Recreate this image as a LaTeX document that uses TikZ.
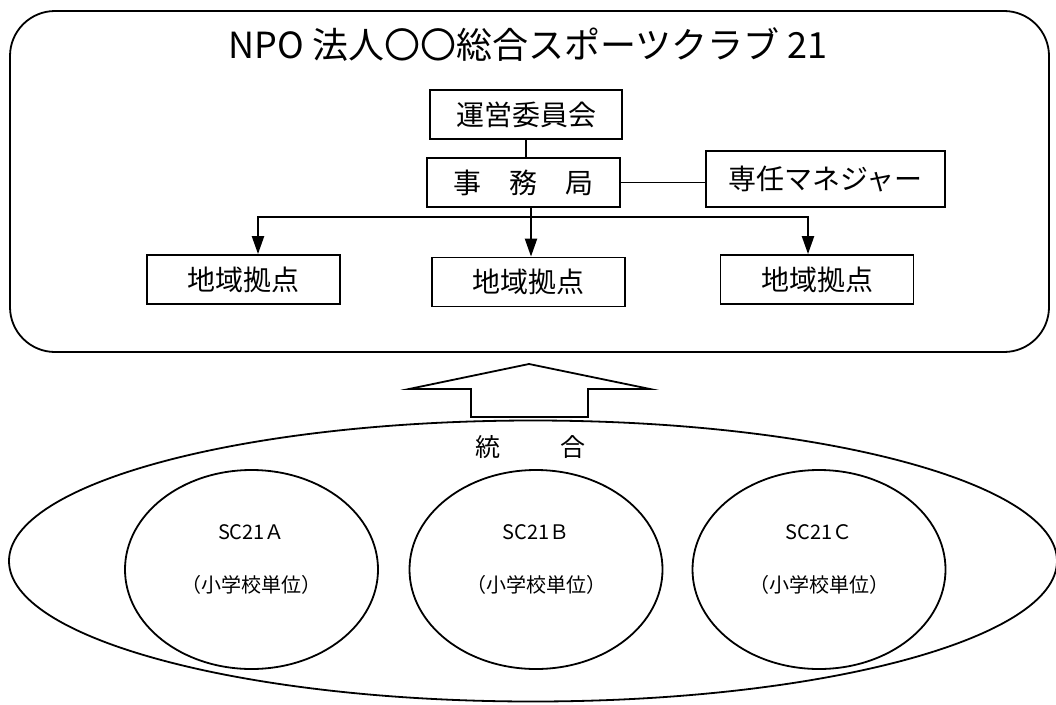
\documentclass[tikz,border=0pt]{standalone}
\usepackage{fontspec}
\setmainfont{Noto Sans CJK JP}
\usetikzlibrary{shapes,arrows.meta}
\tikzset{
  orgbox/.style={draw, line width=1.8pt, inner sep=0pt, font=\fontsize{28}{30}\selectfont},
  school/.style={draw, ellipse, line width=1.8pt, minimum width=253pt, minimum height=199pt},
  feed/.style={line width=2.2pt, -{Triangle[length=18pt,width=12pt]}}
}
\newcommand{\basebox}[3]{\node[orgbox, minimum width=193pt, minimum height=49pt] (#1) at (#2,#3) {地域拠点};}
\newcommand{\schoolunit}[4]{\node[school] (#1) at (#2,#3) {};
  \node[font=\fontsize{20}{22}\selectfont] (#1name) at ([yshift=37pt]#1.center) {SC21#4};
  \node[font=\fontsize{20}{22}\selectfont] (#1unit) at ([yshift=-15pt]#1.center) {（小学校単位）};}

\begin{document}
\begin{tikzpicture}[x=1pt, y=-1pt]
        \useasboundingbox (0,0) rectangle (1056,704);
        % club frame
        \node[draw, line width=1.8pt, rounded corners=45pt, minimum width=1039pt, minimum height=341pt] (club) at (529.5,181.5) {};
        \node[font=\fontsize{36}{40}\selectfont] (title) at (528,45) {NPO 法人〇〇総合スポーツクラブ 21};
        % head office
        \node[orgbox, minimum width=192pt, minimum height=49pt] (board) at (526,114.5) {運営委員会};
        \node[orgbox, minimum width=193pt, minimum height=49pt] (office) at (523.5,182.5) {事　務　局};
        \node[orgbox, minimum width=239pt, minimum height=56pt] (manager) at (825.5,179) {専任マネジャー};
        \draw[line width=2.2pt] (board.south) -- (board.south |- office.north);
        \draw[line width=1.8pt] (office.east) -- (office.east -| manager.west);
        % bases
        \basebox{baseA}{243.5}{279.5}
        \basebox{baseB}{528.5}{282}
        \basebox{baseC}{817}{279.5}
        \coordinate (branch) at (531,217);
        \draw[line width=2.2pt] (office.south -| branch) -- (branch);
        \draw[feed] (branch) -| ([xshift=14.5pt]baseA.north);
        \draw[feed] (branch) -- (branch |- baseB.north);
        \draw[feed] (branch) -| ([xshift=-9pt]baseC.north);
        % merge arrow
        \draw[line width=1.8pt] (471,417) -- (471,389) -- (409,389) -- (529,364) -- (650,389) -- (588,389) -- (588,417) -- cycle;
        % schools
        \node[draw, ellipse, line width=1.8pt, minimum width=1048pt, minimum height=281pt] (area) at (533,561) {};
        \node[font=\fontsize{25}{27}\selectfont] (merge) at (530,447) {統\hspace{60pt}合};
        \schoolunit{schoolA}{251.5}{569.5}{Ａ}
        \schoolunit{schoolB}{536}{569.5}{Ｂ}
        \schoolunit{schoolC}{819}{569.5}{Ｃ}
\end{tikzpicture}
\end{document}
